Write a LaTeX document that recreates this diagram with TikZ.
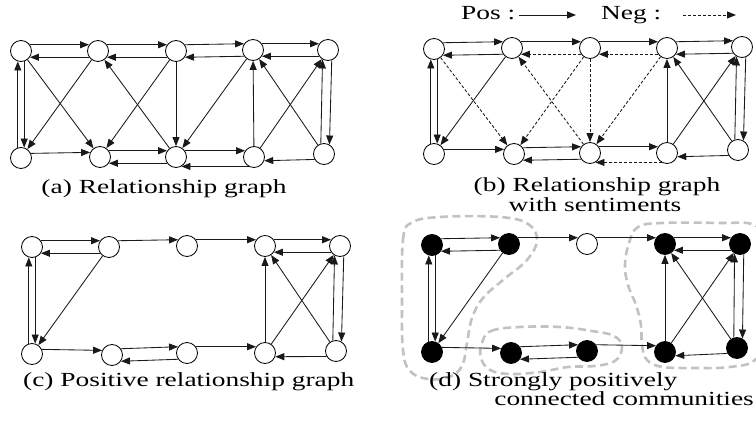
\documentclass[tikz,border=0pt]{standalone}
\usepackage{fontspec}
\setmainfont{Liberation Serif}[FakeStretch=1.37]
\usetikzlibrary{arrows.meta}

\begin{document}
\begin{tikzpicture}[x=1pt,y=-1pt,
  vtx/.style={circle, draw, line width=0.85pt, minimum size=21pt, inner sep=0pt, fill=white},
  fvtx/.style={vtx, fill=black},
  edge/.style={-{Triangle[length=9pt,width=7pt]}, line width=0.85pt, draw=black!90},
  neg/.style={edge, dash pattern=on 3pt off 2pt},
  captxt/.style={font=\fontsize{20}{22}\selectfont, inner sep=0pt},
  blob/.style={draw=black!24, line width=2.6pt, dash pattern=on 8pt off 4.5pt}
]
\useasboundingbox (0,0) rectangle (756,435);

% ---------- legend ----------
\node[captxt, anchor=base west] (postxt) at (461,20) {Pos :};
\coordinate (posA) at (519,15);
\coordinate (posB) at (576,15);
\draw[edge] (posA) -- (posB);
\node[captxt, anchor=base west] (negtxt) at (601,20) {Neg :};
\coordinate (negA) at (683,15);
\coordinate (negB) at (736,15);
\draw[neg] (negA) -- (negB);

% ---------- (a) relationship graph ----------
\node[vtx] (aT1) at (21,51) {};
\node[vtx] (aT2) at (98,51) {};
\node[vtx] (aT3) at (176,51) {};
\node[vtx] (aT4) at (253,50) {};
\node[vtx] (aT5) at (328,50) {};
\node[vtx] (aB1) at (21,158) {};
\node[vtx] (aB2) at (100,157) {};
\node[vtx] (aB3) at (176,157) {};
\node[vtx] (aB4) at (254,157) {};
\node[vtx] (aB5) at (324,154) {};

\draw[edge] (aT1.35) -- (aT2.145);
\draw[edge] (aT2.215) -- (aT1.325);
\draw[edge] (aT2.35) -- (aT3.145);
\draw[edge] (aT3.215) -- (aT2.325);
\draw[edge] (aT3.35) -- (aT4.145);
\draw[edge] (aT4.215) -- (aT3.325);
\draw[edge] (aT4.35) -- (aT5.145);
\draw[edge] (aT5.215) -- (aT4.325);
\draw[edge] (aB1.107) -- (aT1.253);
\draw[edge] (aT1.287) -- (aB1.73);
\draw[edge] (aT1) -- (aB2);
\draw[edge] (aT2) -- (aB1);
\draw[edge] (aB3) -- (aT2);
\draw[edge] (aT3) -- (aB2);
\draw[edge] (aT3) -- (aB3);
\draw[edge] (aT4) -- (aB3);
\draw[edge] (aB4) -- (aT4);
\draw[edge] (aB4) -- (aT5);
\draw[edge] (aB5) -- (aT4);
\draw[edge] (aB5.107) -- (aT5.240);
\draw[edge] (aT5.290) -- (aB5.60);
\draw[edge] (aB1.25) -- (aB2.155);
\draw[edge] (aB2.35) -- (aB3.145);
\draw[edge] (aB3.215) -- (aB2.325);
\draw[edge] (aB3.35) -- (aB4.145);
\draw[edge] (aB4.240) -- (aB3.300);
\draw[edge] (aB5.210) -- (aB4.340);

\node[captxt, anchor=base] (capa) at (164,194) {(a) Relationship graph};

% ---------- (b) relationship graph with sentiments ----------
\node[vtx] (bT1) at (434,49) {};
\node[vtx] (bT2) at (512,48) {};
\node[vtx] (bT3) at (590,48) {};
\node[vtx] (bT4) at (667,48) {};
\node[vtx] (bT5) at (742,47) {};
\node[vtx] (bB1) at (434,154) {};
\node[vtx] (bB2) at (514,154) {};
\node[vtx] (bB3) at (590,153) {};
\node[vtx] (bB4) at (667,153) {};
\node[vtx] (bB5) at (738,150) {};

\draw[edge] (bT1.35) -- (bT2.145);
\draw[edge] (bT2.215) -- (bT1.325);
\draw[edge] (bT2.35) -- (bT3.145);
\draw[neg]  (bT3.215) -- (bT2.325);
\draw[edge] (bT3.35) -- (bT4.145);
\draw[neg]  (bT4.215) -- (bT3.325);
\draw[edge] (bT4.35) -- (bT5.145);
\draw[edge] (bT5.215) -- (bT4.325);
\draw[edge] (bB1.107) -- (bT1.253);
\draw[edge] (bT1.287) -- (bB1.73);
\draw[neg]  (bT1) -- (bB2);
\draw[edge] (bT2) -- (bB1);
\draw[neg]  (bB3) -- (bT2);
\draw[neg]  (bT3) -- (bB2);
\draw[neg]  (bT3) -- (bB3);
\draw[neg]  (bT4) -- (bB3);
\draw[edge] (bB4) -- (bT4);
\draw[edge] (bB4) -- (bT5);
\draw[edge] (bB5) -- (bT4);
\draw[edge] (bB5.107) -- (bT5.240);
\draw[edge] (bT5.290) -- (bB5.60);
\draw[edge] (bB1.25) -- (bB2.155);
\draw[edge] (bB2.35) -- (bB3.145);
\draw[edge] (bB3.215) -- (bB2.325);
\draw[edge] (bB3.35) -- (bB4.145);
\draw[neg]  (bB4.240) -- (bB3.300);
\draw[edge] (bB5.210) -- (bB4.340);

\node[captxt, anchor=base] (capb1) at (597,192) {(b) Relationship graph};
\node[captxt, anchor=base] (capb2) at (595,212) {with sentiments};

% ---------- (c) positive relationship graph ----------
\node[vtx] (cT1) at (32,247) {};
\node[vtx] (cT2) at (109,247) {};
\node[vtx] (cT3) at (187,246) {};
\node[vtx] (cT4) at (265,246) {};
\node[vtx] (cT5) at (340,246) {};
\node[vtx] (cB1) at (32,354) {};
\node[vtx] (cB2) at (112,355) {};
\node[vtx] (cB3) at (187,353) {};
\node[vtx] (cB4) at (265,353) {};
\node[vtx] (cB5) at (336,351) {};

\draw[edge] (cT1.35) -- (cT2.145);
\draw[edge] (cT2.215) -- (cT1.325);
\draw[edge] (cT2.35) -- (cT3.145);
\draw[edge] (cT3.35) -- (cT4.145);
\draw[edge] (cT4.35) -- (cT5.145);
\draw[edge] (cT5.215) -- (cT4.325);
\draw[edge] (cB1.107) -- (cT1.253);
\draw[edge] (cT1.287) -- (cB1.73);
\draw[edge] (cT2) -- (cB1);
\draw[edge] (cB4) -- (cT4);
\draw[edge] (cB4) -- (cT5);
\draw[edge] (cB5) -- (cT4);
\draw[edge] (cB5.107) -- (cT5.240);
\draw[edge] (cT5.290) -- (cB5.60);
\draw[edge] (cB1.25) -- (cB2.155);
\draw[edge] (cB2.35) -- (cB3.145);
\draw[edge] (cB3.215) -- (cB2.325);
\draw[edge] (cB3.35) -- (cB4.145);
\draw[edge] (cB5.210) -- (cB4.340);

\node[captxt, anchor=base west] (capc) at (23,387) {(c) Positive relationship graph};

% ---------- (d) strongly positively connected communities ----------
% community outlines
\draw[blob] plot[smooth cycle, tension=0.65] coordinates {
  (402,300) (403,240) (411,223) (440,217) (500,217) (528,224) (537,240)
  (527,260) (503,280) (483,298) (472,318) (467,343) (462,366) (449,377)
  (428,379) (410,371) (403,350)};
\draw[blob] plot[smooth cycle, tension=0.65] coordinates {
  (482,343) (491,331) (520,327) (560,327) (592,331) (614,336) (622,347)
  (615,361) (594,366) (568,367) (540,372) (510,374) (490,370) (481,358)};
\draw[blob] plot[smooth cycle, tension=0.65] coordinates {
  (625,265) (629,243) (638,227) (662,223) (720,223) (754,225) (766,245)
  (766,335) (755,360) (730,367) (697,368) (663,367) (647,360) (642,345)
  (641,325) (636,305) (628,285)};

\node[fvtx] (dT1) at (432,245) {};
\node[fvtx] (dT2) at (509,244) {};
\node[vtx]  (dT3) at (587,244) {};
\node[fvtx] (dT4) at (665,244) {};
\node[fvtx] (dT5) at (740,244) {};
\node[fvtx] (dB1) at (432,352) {};
\node[fvtx] (dB2) at (511,353) {};
\node[fvtx] (dB3) at (587,351) {};
\node[fvtx] (dB4) at (665,352) {};
\node[fvtx] (dB5) at (737,348) {};

\draw[edge] (dT1.35) -- (dT2.145);
\draw[edge] (dT2.215) -- (dT1.325);
\draw[edge] (dT2.35) -- (dT3.145);
\draw[edge] (dT3.35) -- (dT4.145);
\draw[edge] (dT4.35) -- (dT5.145);
\draw[edge] (dT5.215) -- (dT4.325);
\draw[edge] (dB1.107) -- (dT1.253);
\draw[edge] (dT1.287) -- (dB1.73);
\draw[edge] (dT2) -- (dB1);
\draw[edge] (dB4) -- (dT4);
\draw[edge] (dB4) -- (dT5);
\draw[edge] (dB5) -- (dT4);
\draw[edge] (dB5.107) -- (dT5.240);
\draw[edge] (dT5.290) -- (dB5.60);
\draw[edge] (dB1.25) -- (dB2.155);
\draw[edge] (dB2.35) -- (dB3.145);
\draw[edge] (dB3.215) -- (dB2.325);
\draw[edge] (dB3.35) -- (dB4.145);
\draw[edge] (dB5.210) -- (dB4.340);

\node[captxt, anchor=base west] (capd1) at (429,387) {(d) Strongly positively};
\node[captxt, anchor=base east] (capd2) at (754,406) {connected communities};
\end{tikzpicture}
\end{document}
